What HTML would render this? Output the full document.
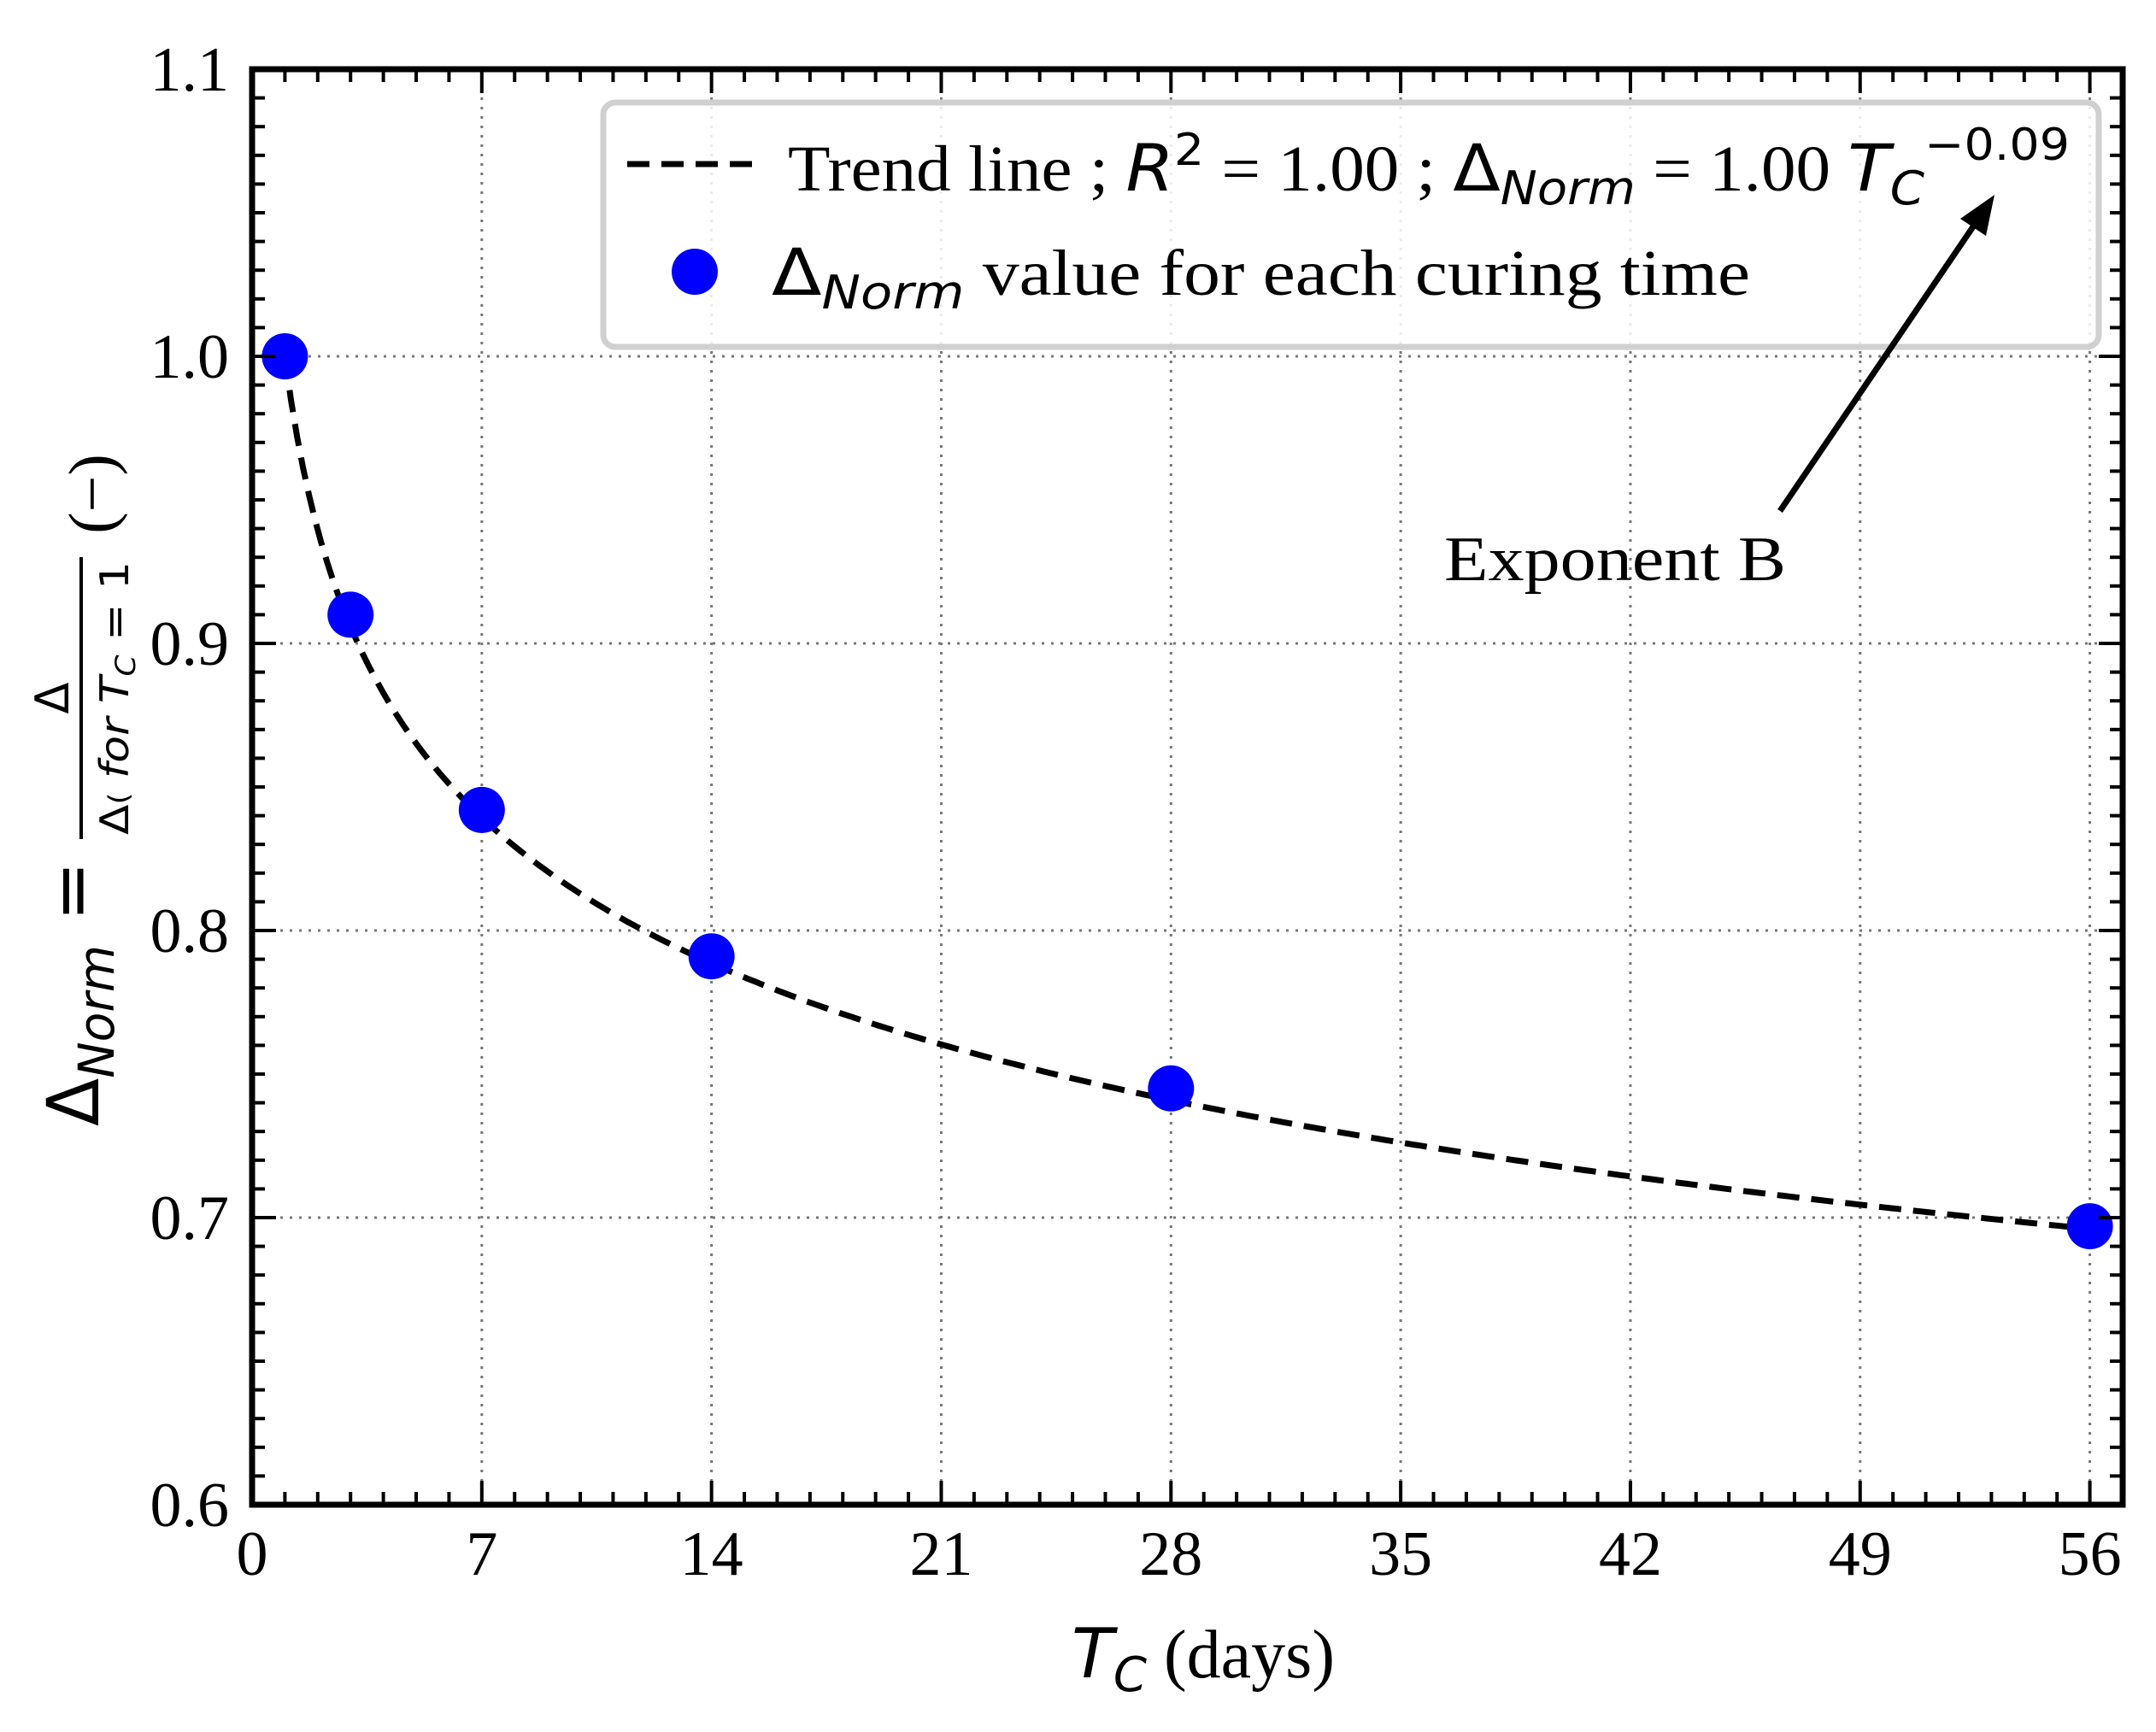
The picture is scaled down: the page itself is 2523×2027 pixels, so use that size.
<!DOCTYPE html>
<html><head><meta charset="utf-8"><style>
html,body{margin:0;padding:0;background:#fff;}
svg{display:block;}
text{font-family:"Liberation Serif",serif;fill:#000;}
.sans{font-family:"DejaVu Sans","Liberation Sans",sans-serif;}
</style></head><body>
<svg id="chart" width="2523" height="2027" viewBox="0 0 2523 2027" xmlns="http://www.w3.org/2000/svg">
<rect x="0" y="0" width="2523" height="2027" fill="#fff"/>
<g id="grid"></g>
<g id="trend"></g>
<g id="points"></g>
<g id="axes"></g>
<g id="legend">
  <rect x="706" y="120" width="1750" height="286" rx="14" fill="#fff" fill-opacity="0.85" stroke="#d0d0d0" stroke-width="7"/>
  <line x1="734" y1="192" x2="892" y2="192" stroke="#000" stroke-width="7" stroke-dasharray="26,14"/>
  <text x="922" y="223" font-size="76" textLength="1500" lengthAdjust="spacingAndGlyphs">Trend line ; <tspan class="sans" font-style="italic">R</tspan><tspan class="sans" dy="-30" font-size="52">2</tspan><tspan dy="30"> = 1.00 ; </tspan><tspan class="sans">Δ</tspan><tspan class="sans" font-style="italic" font-size="54" dy="16">Norm</tspan><tspan dy="-16"> = 1.00 </tspan><tspan class="sans" font-style="italic">T</tspan><tspan class="sans" font-style="italic" font-size="54" dy="16">C</tspan><tspan class="sans" font-size="52" dy="-52">−0.09</tspan></text>
  <circle cx="813" cy="318" r="27" fill="#0000ff"/>
  <text x="903" y="345" font-size="76" textLength="1145" lengthAdjust="spacingAndGlyphs"><tspan class="sans">Δ</tspan><tspan class="sans" font-style="italic" font-size="54" dy="16">Norm</tspan><tspan dy="-16"> value for each curing time</tspan></text>
</g>
<g>
  <line x1="2083" y1="598" x2="2318" y2="252" stroke="#000" stroke-width="7"/>
  <polygon points="2334,228 2294,256 2324,276" fill="#000"/>
  <text x="1690" y="679" font-size="74" textLength="400" lengthAdjust="spacingAndGlyphs">Exponent B</text>
</g>
<text x="1408" y="1963" font-size="80" text-anchor="middle"><tspan class="sans" font-style="italic">T</tspan><tspan class="sans" font-style="italic" font-size="56" dy="16">C</tspan><tspan dy="-16"> (days)</tspan></text>
<g>
  <text transform="translate(115,1318) rotate(-90)" font-size="84" class="sans" textLength="212" lengthAdjust="spacingAndGlyphs">Δ<tspan font-style="italic" font-size="58" dy="18">Norm</tspan></text>
  <text transform="translate(112,1043) rotate(-90)" font-size="84" class="sans" text-anchor="middle">=</text>
  <text transform="translate(80,817) rotate(-90)" font-size="54" class="sans" text-anchor="middle">Δ</text>
  <line x1="95" y1="652" x2="95" y2="982" stroke="#000" stroke-width="4"/>
  <text transform="translate(150,817) rotate(-90)" font-size="46" class="sans" text-anchor="middle" textLength="320" lengthAdjust="spacingAndGlyphs">Δ<tspan font-size="32">(</tspan> <tspan font-style="italic">for T</tspan><tspan font-style="italic" font-size="32" dy="8">C</tspan><tspan dy="-8"> = 1</tspan></text>
  <text transform="translate(133,578) rotate(-90)" font-size="76" text-anchor="middle">(−)</text>
</g>
<script>
// data
const curingDays = [1, 3, 7, 14, 28, 56];
const normValues = [1.0, 0.91, 0.842, 0.791, 0.745, 0.697];
const fitCoefA = [1.00];
const fitExponentB = [-0.09];
const xTickValues = [0, 7, 14, 21, 28, 35, 42, 49, 56];
const xTickLabels = ["0", "7", "14", "21", "28", "35", "42", "49", "56"];
const yTickValues = [0.6, 0.7, 0.8, 0.9, 1.0, 1.1];
const yTickLabels = ["0.6", "0.7", "0.8", "0.9", "1.0", "1.1"];

const NS = "http://www.w3.org/2000/svg";
const L = 295, R = 2484, T = 81, B = 1761;
const xMin = 0, xMax = 57, yMin = 0.6, yMax = 1.1;
function xs(v){ return L + (v - xMin) / (xMax - xMin) * (R - L); }
function ys(v){ return B - (v - yMin) / (yMax - yMin) * (B - T); }
function mk(tag, attrs, parent){
  const e = document.createElementNS(NS, tag);
  for (const k in attrs) e.setAttribute(k, attrs[k]);
  parent.appendChild(e); return e;
}
const grid = document.getElementById('grid');
const axes = document.getElementById('axes');
xTickValues.forEach(v => {
  if (v === 0) return;
  const g = mk('line', {x1: xs(v), x2: xs(v), y1: T, y2: B, stroke: '#777', 'stroke-width': 3, 'stroke-dasharray': '3,8'}, grid);
  
  
});
yTickValues.forEach(v => {
  if (v === yMin || v === yMax) return;
  const g = mk('line', {x1: L, x2: R, y1: ys(v), y2: ys(v), stroke: '#777', 'stroke-width': 3, 'stroke-dasharray': '3,8'}, grid);
  
  
});
const trend = document.getElementById('trend');
let d = '';
const a = fitCoefA[0], b = fitExponentB[0];
const x0 = curingDays[0], x1 = curingDays[curingDays.length - 1];
for (let i = 0; i <= 300; i++) {
  const x = x0 + (x1 - x0) * i / 300;
  d += (i ? 'L' : 'M') + xs(x).toFixed(1) + ',' + ys(a * Math.pow(x, b)).toFixed(1);
}
const tl = mk('path', {d: d, fill: 'none', stroke: '#000', 'stroke-width': 7, 'stroke-dasharray': '26,14'}, trend);


const pts = document.getElementById('points');
curingDays.forEach((x, i) => {
  const c = mk('circle', {cx: xs(x), cy: ys(normValues[i]), r: 27, fill: '#0000ff'}, pts);
  
  
});
for (let v = 1; v < xMax; v++) {
  const major = xTickValues.indexOf(v) >= 0;
  const len = major ? 28 : 15;
  const t1 = mk('line', {x1: xs(v), x2: xs(v), y1: B, y2: B - len, stroke: '#000', 'stroke-width': 4}, axes);
  
  
  const t2 = mk('line', {x1: xs(v), x2: xs(v), y1: T, y2: T + len, stroke: '#000', 'stroke-width': 4}, axes);
  
  
}
for (let k = 61; k < 110; k++) {
  const v = k / 100;
  const major = k % 10 === 0;
  const len = major ? 28 : 15;
  const t1 = mk('line', {x1: L, x2: L + len, y1: ys(v), y2: ys(v), stroke: '#000', 'stroke-width': 4}, axes);
  
  
  const t2 = mk('line', {x1: R, x2: R - len, y1: ys(v), y2: ys(v), stroke: '#000', 'stroke-width': 4}, axes);
  
  
}
const frame = mk('rect', {x: L, y: T, width: R - L, height: B - T, fill: 'none', stroke: '#000', 'stroke-width': 7}, axes);


xTickValues.forEach((v, i) => {
  const t = mk('text', {x: xs(v), y: 1843, 'font-size': 74, 'text-anchor': 'middle'}, axes);
  t.textContent = xTickLabels[i];
  
  
});
yTickValues.forEach((v, i) => {
  const t = mk('text', {x: 268, y: ys(v) + 25, 'font-size': 74, 'text-anchor': 'end'}, axes);
  t.textContent = yTickLabels[i];
  
  
});
</script>
</svg>
</body></html>
